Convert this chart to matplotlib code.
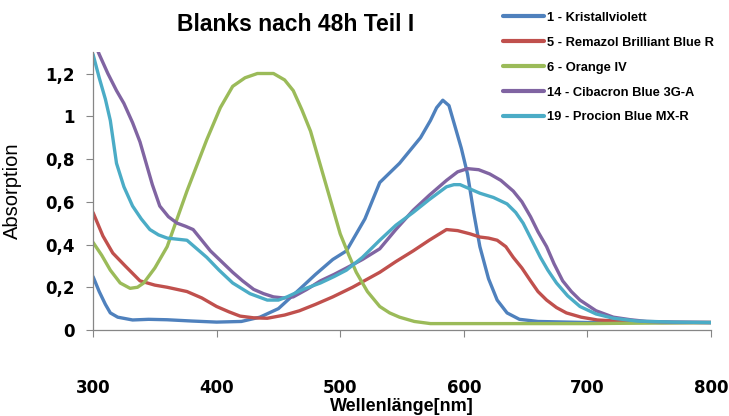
import matplotlib.pyplot as plt
from matplotlib.ticker import FuncFormatter

# Absorption spectra
wl_kv = [300, 305, 310, 314, 320, 332, 345, 360, 380, 400, 420, 435, 450, 467, 480, 494, 505, 520, 532, 548, 565, 573, 578, 583, 588, 593, 598, 603, 608, 613, 620, 627, 635, 645, 660, 700, 750, 800]
a_kv = [0.25, 0.18, 0.12, 0.08, 0.06, 0.047, 0.05, 0.048, 0.042, 0.037, 0.04, 0.06, 0.1, 0.19, 0.26, 0.33, 0.37, 0.52, 0.69, 0.78, 0.9, 0.98, 1.04, 1.075, 1.05, 0.95, 0.85, 0.73, 0.55, 0.39, 0.24, 0.14, 0.08, 0.05, 0.04, 0.035, 0.035, 0.035]

wl_rb = [300, 308, 316, 326, 338, 350, 360, 376, 388, 400, 410, 419, 430, 441, 455, 467, 480, 494, 510, 532, 545, 559, 572, 586, 595, 605, 613, 620, 627, 634, 640, 647, 654, 660, 667, 675, 683, 695, 708, 730, 760, 800]
a_rb = [0.55, 0.44, 0.36, 0.30, 0.23, 0.21, 0.20, 0.18, 0.15, 0.11, 0.085, 0.065, 0.057, 0.055, 0.07, 0.09, 0.12, 0.155, 0.2, 0.27, 0.32, 0.37, 0.42, 0.47, 0.465, 0.45, 0.435, 0.43, 0.42, 0.39, 0.34, 0.29, 0.23, 0.18, 0.14, 0.105, 0.08, 0.06, 0.047, 0.04, 0.035, 0.035]

wl_or = [300, 307, 314, 322, 330, 336, 341, 350, 360, 368, 376, 384, 392, 403, 413, 423, 433, 446, 455, 462, 469, 476, 486, 493, 500, 507, 513, 522, 532, 540, 548, 560, 573, 600, 700, 800]
a_or = [0.41, 0.35, 0.28, 0.22, 0.195, 0.2, 0.22, 0.29, 0.39, 0.52, 0.65, 0.77, 0.89, 1.04, 1.14, 1.18, 1.2, 1.2, 1.17, 1.12, 1.03, 0.93, 0.73, 0.59, 0.45, 0.35, 0.27, 0.18, 0.11, 0.08, 0.06, 0.04, 0.03, 0.03, 0.03, 0.035]

wl_cb = [300, 305, 312, 319, 325, 332, 338, 343, 348, 354, 361, 368, 375, 381, 388, 395, 404, 413, 421, 430, 438, 446, 454, 462, 473, 484, 495, 505, 518, 532, 545, 559, 572, 586, 595, 603, 612, 621, 630, 640, 647, 654, 660, 667, 673, 680, 687, 694, 707, 721, 735, 748, 770, 800]
a_cb = [1.36, 1.29, 1.2, 1.12, 1.06, 0.97, 0.88, 0.78, 0.68, 0.58, 0.53, 0.5, 0.485, 0.47, 0.42, 0.37, 0.32, 0.27, 0.23, 0.19, 0.17, 0.155, 0.15, 0.155, 0.19, 0.23, 0.26, 0.29, 0.33, 0.38, 0.47, 0.56, 0.63, 0.7, 0.74, 0.755, 0.75, 0.73, 0.7, 0.65, 0.6, 0.53, 0.46, 0.39, 0.31, 0.23, 0.18, 0.14, 0.09, 0.06, 0.048, 0.04, 0.037, 0.035]

wl_pb = [300, 305, 310, 314, 319, 325, 332, 339, 346, 353, 360, 368, 376, 384, 392, 402, 413, 427, 441, 450, 457, 470, 484, 495, 505, 518, 532, 545, 559, 572, 586, 592, 597, 605, 613, 624, 635, 642, 648, 655, 662, 668, 675, 684, 694, 707, 721, 740, 770, 800]
a_pb = [1.29, 1.18, 1.08, 0.98, 0.78, 0.67, 0.58, 0.52, 0.47, 0.445, 0.43, 0.425, 0.42, 0.38, 0.34, 0.28, 0.22, 0.17, 0.14, 0.14, 0.155, 0.19, 0.22, 0.25, 0.28, 0.34, 0.42, 0.49, 0.55, 0.61, 0.67, 0.68, 0.68, 0.66, 0.64, 0.62, 0.59, 0.55, 0.5, 0.42, 0.34, 0.28, 0.22, 0.16, 0.11, 0.075, 0.055, 0.042, 0.037, 0.035]

labels = ['1 - Kristallviolett', '5 - Remazol Brilliant Blue R', '6 - Orange IV',
          '14 - Cibacron Blue 3G-A', '19 - Procion Blue MX-R']
colors = ['#4F81BD', '#C0504D', '#9BBB59', '#8064A2', '#4BACC6']
x_ticks = [300, 400, 500, 600, 700, 800]
y_ticks = [0, 0.2, 0.4, 0.6, 0.8, 1.0, 1.2]

fig = plt.figure(figsize=(7.29, 4.16), dpi=100)
ax = fig.add_axes([0.1276, 0.2067, 0.8477, 0.668])

series = [(wl_kv, a_kv), (wl_rb, a_rb), (wl_or, a_or), (wl_cb, a_cb), (wl_pb, a_pb)]
lines = []
for (x, y), c, lab in zip(series, colors, labels):
    ln, = ax.plot(x, y, color=c, linewidth=2.4, label=lab, solid_capstyle='round')
    lines.append(ln)

ax.set_xlim(300, 800)
ax.set_ylim(0, 1.3)
ax.set_xticks(x_ticks)
ax.set_yticks(y_ticks)
ax.yaxis.set_major_formatter(FuncFormatter(lambda v, p: ('%g' % round(v, 1)).replace('.', ',')))

for s in ['top', 'right']:
    ax.spines[s].set_visible(False)
for s in ['left', 'bottom']:
    ax.spines[s].set_color('#868686')
    ax.spines[s].set_linewidth(0.9)

ax.tick_params(axis='x', direction='out', length=5, color='#868686', pad=30)
ax.tick_params(axis='y', direction='out', length=5, color='#868686', pad=8)
for t in ax.get_xticklabels() + ax.get_yticklabels():
    t.set_fontfamily('DejaVu Sans')
    t.set_fontweight('bold')
    t.set_fontsize(12)

ax.set_xlabel('Wellenlänge[nm]', fontsize=13, fontweight='bold', family='Liberation Sans')
ax.xaxis.set_label_coords(0.5, -0.245)
ax.set_ylabel('Absorption', fontsize=14.5, family='Liberation Sans')
ax.yaxis.set_label_coords(-0.115, 0.5)

fig.text(0.405, 0.94, 'Blanks nach 48h Teil I', ha='center', va='center',
         fontsize=16.5, fontweight='bold', family='Liberation Sans')

leg = fig.legend(handles=lines, loc='upper left', bbox_to_anchor=(0.674, 1.0),
                 frameon=False, handlelength=3.2, handletextpad=0.2, labelspacing=1.0,
                 prop={'family': 'Liberation Sans', 'weight': 'bold', 'size': 9.3})
for h in leg.legend_handles:
    h.set_linewidth(3)

fig.savefig('out.png', dpi=100)
